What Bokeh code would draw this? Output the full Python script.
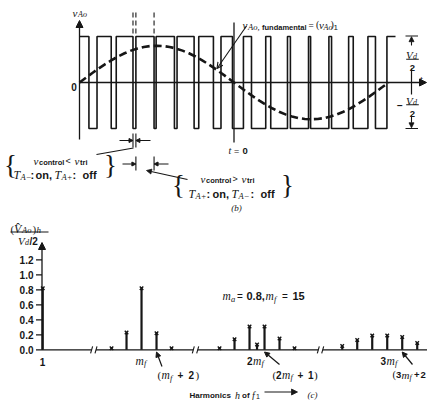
from bokeh.plotting import figure
from bokeh.layouts import column
from bokeh.models import Range1d, Arrow, NormalHead, OpenHead
from bokeh.core.properties import value
from bokeh.embed import file_html
from bokeh.resources import INLINE

# ---------------- panel (b) data ----------------
# PWM leg voltage v_Ao (normalised to Vd/2); switching instants in units of T1
pwm_fall_t = [0.0305, 0.1027, 0.1731, 0.2413, 0.3072, 0.3709, 0.4334, 0.4951,
              0.5566, 0.6189, 0.6825, 0.7479, 0.8157, 0.8859, 0.9578]
pwm_rise_t = [0.0567, 0.1189, 0.1825, 0.2480, 0.3157, 0.3859, 0.4579, 0.5305,
              0.6027, 0.6731, 0.7412, 0.8071, 0.8710, 0.9334, 0.9949]
pwm_start_t = 0.0
pwm_end_t = 1.0227
pwm_high = 1.0
pwm_low = -1.0

# fundamental (v_Ao)_1, normalised to Vd/2, sampled every T1/48
fund_t = [k / 48 for k in range(49)]
fund_v = [0.000, 0.104, 0.207, 0.306, 0.400, 0.487, 0.566, 0.635, 0.693, 0.739, 0.773, 0.793,
          0.800, 0.793, 0.773, 0.739, 0.693, 0.635, 0.566, 0.487, 0.400, 0.306, 0.207, 0.104,
          0.000, -0.104, -0.207, -0.306, -0.400, -0.487, -0.566, -0.635, -0.693, -0.739, -0.773, -0.793,
          -0.800, -0.793, -0.773, -0.739, -0.693, -0.635, -0.566, -0.487, -0.400, -0.306, -0.207, -0.104,
          0.000]

# ---------------- panel (c) data ----------------
ma = 0.8
mf = 15
harmonic = [1, 11, 13, 15, 17, 19, 25, 27, 29, 30, 31, 33, 35, 39, 41, 43, 45, 47, 49, 51]
harm_group = [0, 1, 1, 1, 1, 1, 2, 2, 2, 2, 2, 2, 2, 3, 3, 3, 3, 3, 3, 3]
amplitude = [0.82, 0.02, 0.23, 0.82, 0.22, 0.02, 0.02, 0.14, 0.31, 0.07, 0.31, 0.15, 0.02,
             0.05, 0.13, 0.19, 0.19, 0.17, 0.09, 0.06]
group_h = [1, 15, 30, 45]
y_ticks = [0.0, 0.2, 0.4, 0.6, 0.8, 1.0, 1.2]
y_tick_labels = ["0.0", "0.2", "0.4", "0.6", "0.8", "1.0", "1.2"]

# ---------------- layout helpers ----------------
INK = "#161616"
W = 427
SPLIT = 215
group_u = [0.1, 13.27, 28.67, 46.03]   # where each group's centre harmonic sits on the broken axis
breaks_px = [93.3, 195.0, 320.0]


def bx(px):
    return (px - 79.0) / 309.0


def by(py):
    return (82.0 - py) / 46.0


def cx(px):
    return (px - 41.5) / 7.5


def cy(py):
    return (349.3 - py) / 75.0


FONTS = {"m": ("Liberation Serif", "italic"), "p": ("Liberation Serif", "normal"),
         "s": ("Liberation Sans", "bold"), "r": ("Liberation Sans", "normal")}


def txt(p, X, Y, x, y, s, size, kind="s", align="left", baseline="alphabetic"):
    fam, sty = FONTS[kind]
    p.text(x=[X(x)], y=[Y(y)], text=[s], text_font=value(fam), text_font_style=sty,
           text_font_size=f"{size}px", text_align=align, text_baseline=baseline,
           text_color=INK)


def runs(p, X, Y, y, parts):
    for s, size, kind, dy, x in parts:
        txt(p, X, Y, x, y + dy, s, size, kind)


def arrow(p, X, Y, x0, y0, x1, y1, size=5, lw=1.1, head="normal"):
    if head == "open":
        h = OpenHead(size=size, line_color=INK, line_width=lw)
    else:
        h = NormalHead(size=size, fill_color=INK, line_color=INK, line_width=0.8)
    p.add_layout(Arrow(end=h, x_start=X(x0), y_start=Y(y0), x_end=X(x1), y_end=Y(y1),
                       line_color=INK, line_width=lw))


def seg(p, X, Y, x0, y0, x1, y1, lw=1.2, dash="solid"):
    p.segment(x0=[X(x0)], y0=[Y(y0)], x1=[X(x1)], y1=[Y(y1)], line_color=INK,
              line_width=lw, line_dash=dash)


def make_fig(h, xr, yr):
    f = figure(width=W, height=h, x_range=xr, y_range=yr, output_backend="svg",
               toolbar_location=None, x_axis_type=None, y_axis_type=None, min_border=0)
    f.outline_line_color = None
    f.background_fill_color = "white"
    f.border_fill_color = "white"
    f.xgrid.visible = False
    f.ygrid.visible = False
    return f


# ================= panel (b) =================
pb = make_fig(SPLIT, Range1d(bx(0), bx(W)), Range1d(by(SPLIT), by(0)))

xs, ys = [pwm_start_t], [pwm_high]
for f_, r_ in zip(pwm_fall_t, pwm_rise_t):
    xs += [f_, f_, r_, r_]
    ys += [pwm_high, pwm_low, pwm_low, pwm_high]
xs.append(pwm_end_t)
ys.append(pwm_high)
pb.line(xs, ys, line_color=INK, line_width=1.6)
pb.line(fund_t, fund_v, line_color=INK, line_width=2.6, line_dash="8 4")

# axes
pb.add_layout(Arrow(end=NormalHead(size=7, fill_color=INK, line_color=INK), x_start=0,
                    y_start=by(139), x_end=0, y_end=by(20), line_color=INK, line_width=1.3))
pb.add_layout(Arrow(end=NormalHead(size=7, fill_color=INK, line_color=INK), x_start=0,
                    y_start=0, x_end=bx(426), y_end=0, line_color=INK, line_width=1.3))
runs(pb, bx, by, 12, [("v", 11, "m", 0, 72), ("Ao", 8, "m", 2, 77.5)])
txt(pb, bx, by, 73.5, 86, "0", 10, "s", align="center")
txt(pb, bx, by, 419, 78, "t", 11, "m")

# t = 0 line
t_zero = fund_t[24]
pb.segment(x0=[t_zero], y0=[by(22)], x1=[t_zero], y1=[by(142)], line_color=INK, line_width=1.3)
runs(pb, bx, by, 150, [("t", 10, "m", 0, 228), ("=", 9, "r", 0, 233.5), ("0", 9.5, "s", 0, 242)])

# dashed markers above the pulses
for xm in [pwm_fall_t[2], pwm_rise_t[2], pwm_fall_t[3]]:
    pb.segment(x0=[xm], y0=[by(12)], x1=[xm], y1=[by(33)], line_color=INK, line_width=1.1,
               line_dash="5 3")

# width markers
for xm in [pwm_fall_t[2], pwm_rise_t[2]]:
    pb.segment(x0=[xm], y0=[by(133)], x1=[xm], y1=[by(147)], line_color=INK, line_width=1.1)
pb.add_layout(Arrow(end=NormalHead(size=4, fill_color=INK, line_color=INK), x_start=bx(119),
                    y_start=by(140), x_end=pwm_fall_t[2], y_end=by(140), line_color=INK, line_width=1))
pb.add_layout(Arrow(end=NormalHead(size=4, fill_color=INK, line_color=INK), x_start=bx(150),
                    y_start=by(140), x_end=pwm_rise_t[2], y_end=by(140), line_color=INK, line_width=1))
for xm in [pwm_rise_t[2], pwm_fall_t[3]]:
    pb.segment(x0=[xm], y0=[by(156)], x1=[xm], y1=[by(170)], line_color=INK, line_width=1.1)
pb.add_layout(Arrow(end=NormalHead(size=4, fill_color=INK, line_color=INK), x_start=bx(122),
                    y_start=by(163.5), x_end=pwm_rise_t[2], y_end=by(163.5), line_color=INK, line_width=1))
pb.add_layout(Arrow(end=NormalHead(size=4, fill_color=INK, line_color=INK), x_start=bx(168),
                    y_start=by(163.5), x_end=pwm_fall_t[3], y_end=by(163.5), line_color=INK, line_width=1))

# annotation 1
seg(pb, bx, by, 96, 154, 133, 147.5, lw=1.1)
txt(pb, bx, by, 10, 164, "{", 27, "p", align="center", baseline="middle")
txt(pb, bx, by, 110, 164, "}", 27, "p", align="center", baseline="middle")
runs(pb, bx, by, 160, [("v", 11, "m", 0, 33), ("control", 7.5, "s", 1.5, 38.5), ("<", 9, "r", 0, 65),
                       ("v", 11, "m", 0, 74), ("tri", 7.5, "s", 1.5, 79.5)])
runs(pb, bx, by, 174, [("T", 12, "m", 0, 13), ("A−", 8.5, "m", 2.5, 20), (":", 11, "s", 0, 30),
                       ("on,", 11, "s", 0, 35), ("T", 12, "m", 0, 54), ("A+", 8.5, "m", 2.5, 61),
                       (":", 11, "s", 0, 72), ("off", 11, "s", 0, 82)])

# annotation 2
arrow(pb, bx, by, 187, 179, 146, 170, size=5)
txt(pb, bx, by, 178, 184, "{", 27, "p", align="center", baseline="middle")
txt(pb, bx, by, 287, 184, "}", 27, "p", align="center", baseline="middle")
runs(pb, bx, by, 178, [("v", 11, "m", 0, 200), ("control", 7.5, "s", 1.5, 205.5), (">", 9, "r", 0, 232),
                       ("v", 11, "m", 0, 241), ("tri", 7.5, "s", 1.5, 246.5)])
runs(pb, bx, by, 193, [("T", 12, "m", 0, 188), ("A+", 8.5, "m", 2.5, 195), (":", 11, "s", 0, 206),
                       ("on,", 11, "s", 0, 212), ("T", 12, "m", 0, 231), ("A−", 8.5, "m", 2.5, 238),
                       (":", 11, "s", 0, 250), ("off", 11, "s", 0, 260)])

# fundamental label
arrow(pb, bx, by, 246, 25.5, 216.5, 68, size=6, head="open")
runs(pb, bx, by, 24, [("v", 11, "m", 0, 242), ("Ao,", 8.5, "m", 2.5, 247.5),
                      ("fundamental", 7.5, "s", 2.5, 261.5), ("=", 9, "r", 0, 308),
                      ("(", 10, "p", 0, 315.5), ("v", 11, "m", 0, 318.5), ("Ao", 8, "m", 2.5, 323),
                      (")", 10, "p", 0, 330), ("1", 8, "r", 2.5, 333)])

# Vd/2 dimension
seg(pb, bx, by, 405, 35.5, 417.5, 35.5, lw=1.2)
seg(pb, bx, by, 405, 128, 417.5, 128, lw=1.2)
arrow(pb, bx, by, 411, 45, 411, 36.2, size=5)
seg(pb, bx, by, 411, 68, 411, 94, lw=1.2)
arrow(pb, bx, by, 411, 115, 411, 127.3, size=5)
runs(pb, bx, by, 54.5, [("V", 11, "m", 0, 405.5), ("d", 8, "m", 1.5, 412.5)])
seg(pb, bx, by, 405.7, 58.8, 418.3, 58.8, lw=1.1)
txt(pb, bx, by, 412, 67, "2", 9.5, "s", align="center")
runs(pb, bx, by, 100, [("V", 11, "m", 0, 405.5), ("d", 8, "m", 1.5, 412.5)])
seg(pb, bx, by, 405.7, 104.2, 418.3, 104.2, lw=1.1)
txt(pb, bx, by, 412, 113, "2", 9.5, "s", align="center")
txt(pb, bx, by, 399.5, 104.5, "−", 10, "s", align="center", baseline="middle")

txt(pb, bx, by, 236, 207, "(b)", 9, "m", align="center")

# ================= panel (c) =================
pc = make_fig(400 - SPLIT, Range1d(cx(0), cx(W)), Range1d(cy(400), cy(SPLIT)))

bar_u = [group_u[g] + (h - group_h[g]) for h, g in zip(harmonic, harm_group)]
pos_of = dict(zip(harmonic, bar_u))
pc.segment(x0=bar_u, y0=[0.0] * len(bar_u), x1=bar_u, y1=amplitude, line_color=INK, line_width=2.2)
pc.scatter(bar_u, amplitude, marker="x", size=5, line_color=INK, line_width=1.4)

# y axis
pc.add_layout(Arrow(end=NormalHead(size=7, fill_color=INK, line_color=INK), x_start=0, y_start=0,
                    x_end=0, y_end=cy(242), line_color=INK, line_width=1.3))
pc.segment(x0=[cx(35.5)] * len(y_ticks), y0=y_ticks, x1=[0.0] * len(y_ticks), y1=y_ticks,
           line_color=INK, line_width=1.2)
pc.text(x=[cx(33)] * len(y_ticks), y=y_ticks, text=y_tick_labels, text_font=value("Liberation Sans"),
        text_font_style="bold", text_font_size="10px", text_align="right", text_baseline="middle",
        text_color=INK)

# broken x axis
gap = 2.2
edges = [0.0]
for b in breaks_px:
    edges += [cx(b - gap), cx(b + gap)]
edges.append(cx(W + 5))
pc.segment(x0=edges[0::2], y0=[0.0] * 4, x1=edges[1::2], y1=[0.0] * 4, line_color=INK, line_width=1.3)
for b in breaks_px:
    for d in (-gap, gap):
        seg(pc, cx, cy, b + d - 1.0, 352.8, b + d + 1.0, 345.8, lw=1.1)

# title (V^_Ao)_h / (Vd/2)
runs(pc, cx, cy, 228, [("(", 11, "p", 0, 10), ("V", 12, "m", 0, 13.5), ("Ao", 8.5, "m", 1.5, 21.5),
                       (")", 11, "p", 0, 32), ("h", 9, "m", 1.5, 36)])
txt(pc, cx, cy, 17.5, 227.5, "ˆ", 12, "p", align="center")
seg(pc, cx, cy, 10, 231.5, 48, 231.5, lw=1.1)
runs(pc, cx, cy, 240.5, [("V", 11, "m", 0, 17.5), ("d", 8, "m", 1.5, 24.5), ("/2", 10, "s", 0, 29)])

# x labels
txt(pc, cx, cy, 42, 361, "1", 10, "s", align="center")
runs(pc, cx, cy, 360, [("m", 11.5, "m", 0, 135), ("f", 8.5, "m", 2.5, 143.5)])
runs(pc, cx, cy, 360, [("2", 10, "s", 0, 246.5), ("m", 11.5, "m", 0, 252.5), ("f", 8.5, "m", 2.5, 261)])
runs(pc, cx, cy, 360, [("3", 10, "s", 0, 380), ("m", 11.5, "m", 0, 386), ("f", 8.5, "m", 2.5, 394.5)])

# pointers
for h_t, (sx, sy) in zip([mf + 2, 2 * mf + 1, 3 * mf + 2], [(161.5, 366), (279, 364), (412, 364)]):
    pc.add_layout(Arrow(end=NormalHead(size=5, fill_color=INK, line_color=INK), x_start=cx(sx),
                        y_start=cy(sy), x_end=pos_of[h_t], y_end=cy(351.5), line_color=INK,
                        line_width=1.2))
runs(pc, cx, cy, 374.5, [("(", 11, "p", 0, 157), ("m", 11.5, "m", 0, 161), ("f", 8.5, "m", 2.5, 169.5),
                         ("+", 10, "s", 0, 177), ("2", 10, "s", 0, 188), (")", 11, "p", 0, 195)])
runs(pc, cx, cy, 374, [("(", 11, "p", 0, 272), ("2", 10, "s", 0, 275.5), ("m", 11.5, "m", 0, 281.5),
                       ("f", 8.5, "m", 2.5, 290), ("+", 10, "s", 0, 297), ("1", 10, "s", 0, 307.5),
                       (")", 11, "p", 0, 313.5)])
runs(pc, cx, cy, 374, [("(", 10.5, "p", 0, 392), ("3", 9.5, "s", 0, 395.5), ("m", 11, "m", 0, 401),
                       ("f", 8, "m", 2.5, 409), ("+", 9.5, "s", 0, 413.5), ("2", 9.5, "s", 0, 420)])

# parameters
runs(pc, cx, cy, 295.5, [("m", 11.5, "m", 0, 222), ("a", 8.5, "m", 2.5, 230.5), ("=", 10, "r", 0, 236.5),
                         (f"{ma},", 11, "s", 0, 246), ("m", 11.5, "m", 0, 265), ("f", 8.5, "m", 2.5, 273.5),
                         ("=", 10, "r", 0, 281.5), (f"{mf}", 11, "s", 0, 292)])

# x caption
runs(pc, cx, cy, 394.5, [("Harmonics", 8, "s", 0, 189), ("h", 10, "m", 0, 234.5), ("of", 8, "s", 0, 241.5),
                         ("f", 10, "m", 0, 251.5), ("1", 7, "r", 1.5, 255.5)])
arrow(pc, cx, cy, 264, 391.5, 297, 391.5, size=6, lw=1.2)
txt(pc, cx, cy, 312, 394.5, "(c)", 9, "m", align="center")

layout = column(pb, pc, spacing=0)
open("out.html", "w").write(file_html(layout, INLINE))
